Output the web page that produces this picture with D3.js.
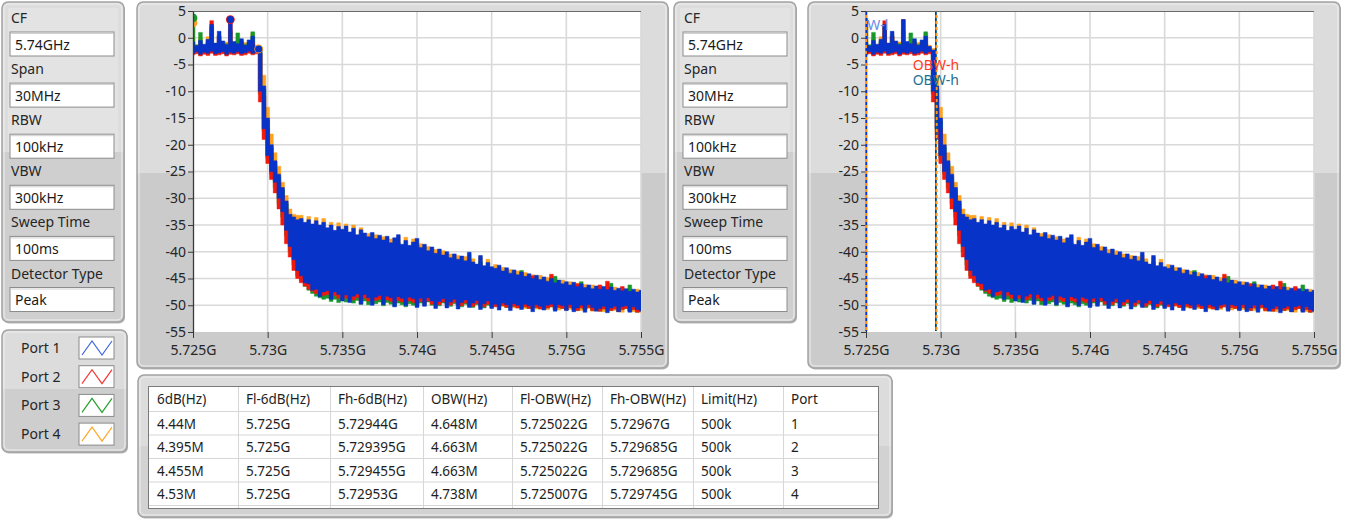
<!DOCTYPE html>
<html><head><meta charset="utf-8">
<script src="https://cdn.jsdelivr.net/npm/d3@7"></script>
<style>
body{margin:0;background:#fff;}
svg{display:block;font-family:'Noto Sans','Segoe UI',sans-serif;}
</style></head><body>
<svg id="c" width="1346" height="519"></svg>
<script>
// ---------------- DATA ----------------
const settingLabels = ["CF","Span","RBW","VBW","Sweep Time","Detector Type"];
const settingValues = ["5.74GHz","30MHz","100kHz","300kHz","100ms","Peak"];
const portNames = ["Port 1","Port 2","Port 3","Port 4"];

const xTickValues = [5.725,5.73,5.735,5.74,5.745,5.75,5.755];
const xTickLabels = ["5.725G","5.73G","5.735G","5.74G","5.745G","5.75G","5.755G"];
const yTickValues = [5,0,-5,-10,-15,-20,-25,-30,-35,-40,-45,-50,-55];

// sweep grid: 5.725 GHz .. 5.755 GHz, 0.25 MHz bins (121 bins)
const freqGHz = d3.range(121).map(i => 5.725 + i*0.00025);

// per-bin peak envelope (max / min, dBm)
const p1Hi = [-0.8,-1.5,-0.5,-1.2,-0.3,2.5,-1.0,1.2,-0.6,-1.3,3.4,-0.7,-1.1,-0.2,-1.4,-0.4,0.3,-1.6,
 -2.3,-9,-15,-20,-23,-25.5,-28,-30.5,-33,-33.5,-34,
 -33.8,-34.5,-34,-34.8,-34.2,-35,-34.5,-35.5,-35,-36,-35.3,-35.8,
 -35.2,-36.3,-35.6,-36.8,-35.9,-36.5,-37.2,-36.4,-37.5,-36.9,-37.8,-37.1,-38.3,-37.4,-36.8,-38.6,-37.9,-38.8,-38.2,-37.5,
 -39.2,-38.6,-39.8,-39.1,-40.3,-39.5,-40.6,-40.0,-41.1,-40.4,-41.4,-40.8,-41.7,-40.1,-41.9,-42.3,-40.7,-42.6,-42.0,-42.8,
 -43.1,-42.5,-43.6,-43.0,-44.0,-43.4,-44.3,-43.8,-44.6,-44.1,-45.0,-44.4,-45.2,-44.7,-45.5,-45.0,-45.8,-45.3,-46.0,-45.6,
 -46.2,-45.7,-46.5,-46.0,-46.7,-46.2,-46.9,-46.4,-47.0,-46.5,-47.1,-46.6,-47.2,-46.8,-47.3,-46.9,-47.4,-47.0,-47.5,-47.2];
const p1Lo = [-2.9,-2.6,-3.1,-2.7,-2.9,-2.5,-3.0,-2.8,-2.6,-3.1,-2.7,-2.9,-2.6,-3.0,-2.8,-2.5,-2.9,-2.6,
 -10,-17,-22,-25,-27,-30,-32.5,-36,-39,-41.5,-43.5,
 -44.5,-45.8,-46,-47.2,-47,-48.4,-47.5,-47.3,-48.9,-47.5,-48,-49.2,
 -48.1,-49.5,-48.3,-47.9,-49.8,-48.0,-48.6,-50.0,-48.5,-48.2,-49.9,-48.3,-48.6,-50.3,-48.4,-48.7,-50.1,-48.5,-48.8,-50.4,
 -48.7,-50.2,-48.6,-49.2,-50.6,-49.3,-48.8,-50.5,-49.4,-48.9,-50.7,-49.5,-49.0,-50.4,-49.6,-49.1,-50.8,-49.7,-49.2,-50.6,
 -49.8,-50.9,-49.6,-49.9,-51.0,-49.7,-50.0,-50.8,-49.8,-50.1,-51.2,-49.9,-50.2,-50.9,-50.0,-49.8,-51.1,-49.9,-50.1,-51.0,
 -49.9,-51.2,-50.5,-50.0,-51.3,-49.9,-50.4,-51.1,-50.6,-50.2,-51.4,-50.5,-50.2,-51.2,-50.3,-50.1,-51.3,-50.3,-50.8,-51.1];
const p2Hi = [-1.5,-1.9,-1.2,-1.8,-1.0,3.2,-1.6,0.2,-1.3,-1.7,3.4,-1.4,-1.6,-1.0,-1.9,-1.2,-0.8,-2.0,
 -3,-11,-17,-21.5,-24.5,-27,-29.5,-32,-34,-35,-35.5,
 -35.6,-36.2,-35.8,-36.5,-36.0,-36.8,-36.3,-37.2,-36.8,-37.7,-37.1,-37.5,
 -37.0,-38.1,-37.4,-38.6,-37.7,-38.3,-39.0,-38.2,-39.3,-38.7,-39.6,-38.9,-40.1,-39.2,-38.6,-40.4,-39.7,-40.6,-40.0,-39.3,
 -41.0,-40.4,-41.6,-40.9,-42.1,-41.3,-42.4,-41.8,-42.9,-42.2,-43.2,-42.6,-43.5,-41.9,-43.7,-44.1,-42.5,-44.4,-43.8,-44.6,
 -44.9,-44.3,-45.4,-44.8,-45.8,-44.2,-46.1,-45.6,-46.4,-45.9,-44.5,-46.2,-47.0,-46.5,-47.3,-44.2,-47.5,-47.0,-47.7,-47.3,
 -47.9,-47.4,-46.0,-47.7,-48.3,-47.8,-48.5,-47.9,-46.2,-48.1,-45.5,-48.2,-48.8,-48.3,-46.5,-48.4,-49.0,-48.5,-49.1,-48.6];
const p2Lo = [-3.2,-3.0,-3.4,-3.1,-3.3,-2.9,-3.3,-3.2,-3.0,-3.4,-3.1,-3.2,-3.0,-3.3,-3.2,-2.9,-3.2,-3.0,
 -12,-19,-23.5,-26.5,-29,-32,-35,-38.5,-41,-43.5,-45,
 -45.8,-46.4,-47.0,-47.4,-47.8,-48.0,-48.2,-48.0,-48.5,-48.2,-48.7,-48.3,
 -48.7,-48.4,-49.0,-48.6,-49.1,-48.7,-49.2,-48.8,-49.1,-48.9,-49.5,-49.0,-49.3,-49.6,-49.1,-49.4,-49.7,-49.2,-49.5,-49.8,
 -49.3,-49.6,-49.2,-49.8,-49.5,-49.9,-49.4,-49.7,-50.0,-49.5,-49.8,-50.1,-49.6,-49.9,-50.2,-49.7,-50.0,-50.3,-49.8,-50.1,
 -50.3,-49.8,-50.1,-50.4,-49.9,-50.2,-50.5,-50.0,-50.3,-50.6,-50.1,-50.4,-50.7,-50.2,-50.5,-50.3,-50.8,-50.4,-50.6,-50.9,
 -50.4,-50.7,-51.0,-50.5,-50.8,-50.4,-51.0,-50.6,-51.1,-50.7,-50.5,-51.0,-50.7,-51.2,-50.8,-50.6,-51.1,-50.8,-51.3,-50.9];
const p3Hi = [3.6,-1.3,1.0,-1.4,-0.6,2.0,-1.2,0.3,-0.9,-1.1,1.2,-1.0,0.9,-0.6,-1.2,-0.8,1.1,-1.8,
 -2.4,-9.5,-15.5,-20.5,-23.5,-26,-28.5,-31,-33.5,-34.5,-35,
 -35.0,-35.8,-35.3,-36.1,-35.5,-36.3,-35.8,-36.8,-36.3,-37.2,-36.6,-37.1,
 -36.6,-37.6,-36.9,-38.1,-37.2,-37.8,-38.4,-37.7,-38.8,-38.2,-39.1,-38.4,-39.6,-38.7,-38.3,-39.9,-39.2,-40.1,-39.5,-38.8,
 -40.3,-39.8,-40.9,-40.2,-41.4,-40.6,-41.7,-41.1,-42.2,-41.5,-42.4,-41.8,-42.7,-41.4,-42.9,-43.2,-41.9,-43.5,-42.9,-43.7,
 -44.0,-43.3,-44.4,-43.8,-44.8,-44.1,-45.1,-43.5,-45.3,-44.8,-45.7,-45.0,-45.9,-45.3,-46.1,-45.6,-44.6,-45.9,-46.6,-46.2,
 -46.7,-46.2,-47.0,-45.6,-47.2,-46.7,-47.4,-46.9,-47.5,-47.0,-47.6,-45.9,-47.7,-47.3,-47.8,-47.4,-46.2,-47.5,-48.0,-47.7];
const p3Lo = [-3.0,-2.8,-3.2,-2.9,-3.0,-2.7,-3.1,-3.0,-2.8,-3.2,-2.9,-3.0,-2.8,-3.1,-3.0,-2.7,-3.0,-2.8,
 -10.5,-17.5,-22.5,-25.5,-28,-31,-33.5,-37,-40,-42.5,-44.5,
 -45.5,-46.5,-47.2,-47.8,-48.3,-48.6,-48.9,-48.7,-49.3,-48.9,-49.5,-49.0,
 -49.4,-48.8,-49.6,-49.1,-49.8,-49.2,-49.9,-49.3,-49.7,-49.4,-50.1,-49.5,-49.8,-50.2,-49.6,-49.9,-50.3,-49.7,-50.0,-50.2,
 -49.6,-49.9,-49.4,-50.0,-49.7,-50.1,-49.6,-49.9,-50.2,-49.7,-50.0,-50.3,-49.8,-50.1,-50.4,-49.9,-50.2,-50.5,-50.0,-50.3,
 -50.2,-49.8,-50.0,-50.4,-49.9,-50.2,-50.5,-50.0,-50.3,-50.6,-50.1,-50.4,-50.7,-50.2,-50.5,-50.3,-50.8,-50.4,-50.6,-50.9,
 -50.4,-50.7,-51.0,-50.5,-50.8,-50.4,-50.9,-50.6,-51.1,-50.7,-50.5,-51.0,-50.7,-51.2,-50.8,-50.6,-51.1,-50.8,-51.3,-50.9];
const p4Hi = [3.0,-1.8,0.0,-1.6,0.2,1.0,-1.4,0.5,-1.0,-0.8,1.5,-1.2,-0.5,-0.8,-0.9,-1.0,0.8,-1.4,
 -2,-7,-13,-18,-21.5,-24,-27,-29.5,-32,-33,-33.2,
 -33.2,-35.0,-33.4,-35.3,-33.6,-35.6,-33.8,-36.0,-34.5,-36.4,-34.6,-36.3,
 -34.8,-36.8,-35.0,-37.3,-35.5,-37.0,-36.6,-36.9,-36.8,-37.4,-37.2,-37.6,-37.6,-38.0,-37.2,-38.9,-37.3,-39.2,-37.6,-38.2,
 -38.5,-39.1,-39.0,-39.5,-39.6,-40.0,-39.8,-40.4,-40.4,-40.9,-40.7,-41.2,-40.9,-40.6,-41.3,-42.6,-41.0,-43.0,-41.4,-43.2,
 -42.4,-43.0,-42.9,-43.4,-43.3,-43.8,-43.6,-44.2,-43.9,-44.5,-44.3,-44.8,-44.4,-45.1,-44.8,-45.4,-45.1,-45.6,-45.3,-46.0,
 -45.6,-46.1,-45.9,-46.4,-46.1,-46.6,-46.2,-46.8,-46.4,-46.9,-46.5,-47.0,-46.6,-47.1,-46.8,-47.2,-46.9,-47.3,-47.0,-47.4];
const p4Lo = [-2.7,-2.5,-2.9,-2.6,-2.8,-2.4,-2.9,-2.7,-2.5,-2.9,-2.6,-2.8,-2.5,-2.9,-2.7,-2.4,-2.8,-2.5,
 -8,-15,-20.5,-24,-26.5,-29,-31.5,-34.5,-37.5,-40.5,-43,
 -44,-45,-45.6,-46.2,-46.7,-47,-47.2,-47.1,-47.5,-47.3,-47.7,-47.4,
 -47.8,-47.5,-48.0,-47.7,-48.2,-47.8,-48.3,-48.0,-48.3,-48.0,-48.5,-48.1,-48.4,-48.6,-48.2,-48.5,-48.8,-48.3,-48.6,-48.9,
 -48.5,-48.8,-48.4,-49.0,-48.7,-49.1,-48.6,-48.9,-49.2,-48.7,-49.0,-49.3,-48.8,-49.1,-49.4,-48.9,-49.2,-49.5,-49.0,-49.3,
 -49.6,-49.1,-50.2,-49.7,-49.2,-50.5,-49.8,-49.3,-50.6,-49.9,-49.4,-50.7,-50.0,-49.5,-50.8,-49.6,-50.1,-50.9,-49.9,-50.6,
 -50.8,-50.0,-50.3,-51.0,-50.1,-50.6,-51.1,-50.0,-50.4,-51.2,-50.3,-50.7,-51.0,-50.5,-51.3,-50.2,-50.8,-51.2,-50.6,-51.3];

// peak markers on the left graph
const markerPort = [4, 3, 2, 1, 4, 1];
const markerFreq = [5.725, 5.725, 5.7275, 5.7275, 5.7294, 5.7294];
const markerDb   = [2.8, 3.7, 3.4, 3.4, -2.1, -2.1];

// table
const tableHeaders = ["6dB(Hz)","Fl-6dB(Hz)","Fh-6dB(Hz)","OBW(Hz)","Fl-OBW(Hz)","Fh-OBW(Hz)","Limit(Hz)","Port"];
const bw6dB  = ["4.44M","4.395M","4.455M","4.53M"];
const fl6dB  = ["5.725G","5.725G","5.725G","5.725G"];
const fh6dB  = ["5.72944G","5.729395G","5.729455G","5.72953G"];
const obwHz  = ["4.648M","4.663M","4.663M","4.738M"];
const flObw  = ["5.725022G","5.725022G","5.725022G","5.725007G"];
const fhObw  = ["5.72967G","5.729685G","5.729685G","5.729745G"];
const limitHz = ["500k","500k","500k","500k"];
const portNo = ["1","2","3","4"];

// cursor labels on the right graph (OBW-l label is cut by the plot edge: only "W-l" shows)
const cursorLabelText = ["W-l","OBW-h","OBW-h"];
const cursorLabelPort = [1, 2, 1];
const cursorLabelEdge = ["l","h","h"];
const cursorLabelDb   = [1.4, -6.1, -8.9];

// ---------------- STYLE ----------------
const traceColors  = {1:"#0733c8", 2:"#f2180c", 3:"#18982a", 4:"#ffa220"};
const legendColors = {1:"#3c64e2", 2:"#f23838", 3:"#2aa030", 4:"#ffa830"};

const svg = d3.select("#c");
const defs = svg.append("defs");
let gid = 0;

function panel(x, y, w, h, split, top, bottom) {
  const id = "pg" + (gid++);
  const f = (split - y) / h;
  const lg = defs.append("linearGradient").attr("id", id).attr("x1",0).attr("y1",0).attr("x2",0).attr("y2",1);
  lg.append("stop").attr("offset", f).attr("stop-color", top || "#dcdcdc");
  lg.append("stop").attr("offset", f).attr("stop-color", bottom || "#cccccc");
  svg.append("rect").attr("x", x+1).attr("y", y+1.5).attr("width", w).attr("height", h)
    .attr("rx", 6).attr("fill", "#b8b8b8");
  svg.append("rect").attr("x", x).attr("y", y).attr("width", w).attr("height", h)
    .attr("rx", 6).attr("fill", `url(#${id})`).attr("stroke", "#a2a2a2").attr("stroke-width", 1.5);
  svg.append("rect").attr("x", x+2).attr("y", y+2).attr("width", w-4).attr("height", h-4)
    .attr("rx", 5).attr("fill", "none").attr("stroke", "#efefef").attr("stroke-width", 1);
}

// ---------- settings panels ----------
function settingsPanel(px, bx) {
  panel(px, 2, 122, 320, 152, "#dddddd", "#cfcfcf");
  svg.append("rect").attr("x", px+6).attr("y", 8).attr("width", 110).attr("height", 144).attr("fill", "#e3e3e3");
  settingLabels.forEach((lab, k) => {
    svg.append("text").attr("x", bx+1).attr("y", 23 + 51.1*k).attr("font-size", 14)
      .attr("fill", "#262626").text(lab);
    const by = 32 + 51.1*k;
    svg.append("rect").attr("x", bx).attr("y", by).attr("width", 104).attr("height", 24)
      .attr("fill", "#fff").attr("stroke", "#8c8c8c").attr("stroke-width", 1);
    svg.append("line").attr("x1", bx+1).attr("x2", bx+103).attr("y1", by+1.5).attr("y2", by+1.5)
      .attr("stroke", "#d0d0d0");
    svg.append("text").attr("x", bx+5).attr("y", by+17.5).attr("font-size", 14)
      .attr("fill", "#1a1a1a").text(settingValues[k]);
  });
}
settingsPanel(2, 10);
settingsPanel(674, 683);

// ---------- legend ----------
panel(2, 330, 125, 122, 389, "#dcdcdc", "#cecece");
portNames.forEach((nm, k) => {
  const ry = 337 + 28.7*k;
  svg.append("text").attr("x", 21).attr("y", ry+16).attr("font-size", 14).attr("fill", "#262626").text(nm);
  svg.append("rect").attr("x", 79).attr("y", ry).attr("width", 35).attr("height", 22)
    .attr("fill", "#fff").attr("stroke", "#8a8a8a");
  const xs = d3.scaleLinear().domain([0, 3]).range([82, 112]);
  const ys = d3.scaleLinear().domain([0, 1]).range([ry+18, ry+4]);
  const pts = [[0,0],[1,1],[2,0],[3,1]];
  svg.append("path").attr("d", d3.line().x(d => xs(d[0])).y(d => ys(d[1]))(pts))
    .attr("fill", "none").attr("stroke", legendColors[k+1]).attr("stroke-width", 1.2);
});

// ---------- charts ----------
const portData = {1:[p1Hi,p1Lo], 2:[p2Hi,p2Lo], 3:[p3Hi,p3Lo], 4:[p4Hi,p4Lo]};

function drawChart(panelX, panelW, plotL, plotR, withCursors) {
  panel(panelX, 2, panelW, 366, 173, "#dcdcdc", "#cbcbcb");
  const x = d3.scaleLinear().domain([5.725, 5.755]).range([plotL, plotR]);
  const y = d3.scaleLinear().domain([-55, 5]).range([332, 11]);
  const g = svg.append("g");
  g.append("rect").attr("x", plotL).attr("y", 11).attr("width", plotR - plotL).attr("height", 321).attr("fill", "#fff");
  // grid
  g.selectAll(".vg").data(xTickValues.slice(1)).join("line")
    .attr("x1", d => x(d)).attr("x2", d => x(d)).attr("y1", 11).attr("y2", 332)
    .attr("stroke", "#d9d9d9").attr("stroke-width", 1.6);
  g.selectAll(".hg").data(yTickValues.slice(1, -1)).join("line")
    .attr("x1", plotL).attr("x2", plotR).attr("y1", d => y(d)).attr("y2", d => y(d))
    .attr("stroke", "#d9d9d9").attr("stroke-width", 1.6);
  const cid = "clip" + (gid++);
  defs.append("clipPath").attr("id", cid).append("rect")
    .attr("x", plotL).attr("y", 11).attr("width", plotR - plotL).attr("height", 321);
  const tg = g.append("g").attr("clip-path", `url(#${cid})`);
  const area = d3.area().x(d => x(d.f)).y0(d => y(d.lo)).y1(d => y(d.hi)).curve(d3.curveStep);
  [4, 3, 2, 1].forEach(p => {
    const [hi, lo] = portData[p];
    const rows = freqGHz.map((f, i) => ({f, hi: hi[i], lo: lo[i]}));
    tg.append("path").attr("d", area(rows)).attr("fill", traceColors[p])
      .attr("stroke", traceColors[p]).attr("stroke-width", 0.5);
  });
  if (!withCursors) {
    markerPort.forEach((p, i) => {
      tg.append("circle").attr("cx", x(markerFreq[i])).attr("cy", y(markerDb[i]))
        .attr("r", p === 1 ? 3.6 : 4.4).attr("fill", traceColors[p]);
    });
  }
  // top frame line
  g.append("line").attr("x1", plotL).attr("x2", plotR).attr("y1", 11.5).attr("y2", 11.5)
    .attr("stroke", "#6a6a6a").attr("stroke-width", 1);
  // axes
  const ya = g.append("g").attr("transform", `translate(${plotL},0)`)
    .call(d3.axisLeft(y).tickValues(yTickValues).tickFormat(d => String(d)).tickSize(5).tickSizeOuter(0).tickPadding(2));
  ya.select(".domain").attr("stroke", "#3a3a3a").attr("stroke-width", 1.3);
  ya.selectAll(".tick line").attr("stroke", "#3a3a3a");
  ya.selectAll("text").attr("font-size", 14).attr("fill", "#262626").attr("font-family", "'Noto Sans',sans-serif");
  const xa = g.append("g").attr("transform", `translate(0,332)`)
    .call(d3.axisBottom(x).tickValues(xTickValues).tickFormat((d, i) => xTickLabels[i]).tickSize(6).tickSizeOuter(0).tickPadding(7));
  xa.select(".domain").remove();
  xa.selectAll(".tick line").attr("stroke", "#3a3a3a");
  xa.selectAll("text").attr("font-size", 14).attr("fill", "#262626").attr("font-family", "'Noto Sans',sans-serif");

  if (withCursors) {
    const cg = g.append("g");
    const dashOffset = {1: 0, 2: 3, 3: 0, 4: 3};
    [2, 3, 4, 1].forEach(p => {
      const k = p - 1;
      [parseFloat(flObw[k]), parseFloat(fhObw[k])].forEach(f => {
        cg.append("line").attr("x1", x(f)).attr("x2", x(f)).attr("y1", 12).attr("y2", 331)
          .attr("stroke", traceColors[p]).attr("stroke-width", 1.5)
          .attr("stroke-dasharray", "3,3").attr("stroke-dashoffset", dashOffset[p]);
      });
    });
    const lg = g.append("g").attr("clip-path", `url(#${cid})`);
    cursorLabelText.forEach((t, i) => {
      const p = cursorLabelPort[i];
      const k = p - 1;
      const f = parseFloat(cursorLabelEdge[i] === "l" ? flObw[k] : fhObw[k]);
      const isL = cursorLabelEdge[i] === "l";
      const col = isL ? "#6a8ae8" : (p === 2 ? "#ff3a1c" : "#1b6f94");
      lg.append("text").attr("x", isL ? x(f) + 1 : x(f)).attr("y", y(cursorLabelDb[i]))
        .attr("text-anchor", isL ? "start" : "middle").attr("font-size", 14).attr("fill", col).text(t);
    });
  }
}
drawChart(137, 531, 193, 641, false);
drawChart(808, 532, 866, 1314, true);

// ---------- table ----------
panel(138, 375, 754, 142, 446, "#dcdcdc", "#d2d2d2");
const colX = [149, 238, 330, 423, 512, 602, 693, 783, 878];
const rowY = [387, 411, 434.5, 458, 481.5, 505];
svg.append("rect").attr("x", 149).attr("y", 387).attr("width", 729).attr("height", 121).attr("fill", "#fff");
colX.slice(1, -1).forEach(cx => svg.append("line").attr("x1", cx+0.5).attr("x2", cx+0.5).attr("y1", 387).attr("y2", 508)
  .attr("stroke", "#d6d6d6"));
rowY.slice(1).forEach(ry => svg.append("line").attr("x1", 149).attr("x2", 878).attr("y1", ry+0.5).attr("y2", ry+0.5)
  .attr("stroke", "#d6d6d6"));
svg.append("rect").attr("x", 148.5).attr("y", 386.5).attr("width", 730).attr("height", 122)
  .attr("fill", "none").attr("stroke", "#7a7a7a");
tableHeaders.forEach((h, c) => svg.append("text").attr("x", colX[c]+8).attr("y", 404).attr("font-size", 13.5)
  .attr("fill", "#1e1e1e").text(h));
const cols = [bw6dB, fl6dB, fh6dB, obwHz, flObw, fhObw, limitHz, portNo];
cols.forEach((col, c) => col.forEach((v, r) => svg.append("text").attr("x", colX[c]+8)
  .attr("y", rowY[r+1] + 17.5).attr("font-size", 13.5).attr("fill", "#1e1e1e").text(v)));
</script>
</body></html>
